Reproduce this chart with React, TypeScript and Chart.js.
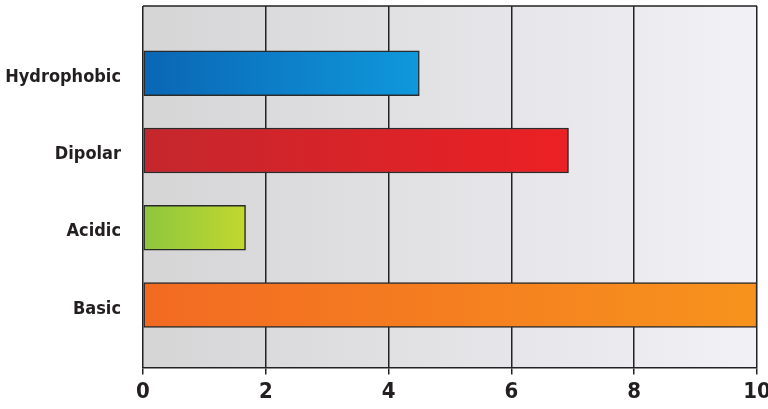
import { useEffect, useRef } from "react";
import { Chart, registerables } from "chart.js";

Chart.register(...registerables);

const categories = ["Hydrophobic", "Dipolar", "Acidic", "Basic"];
const values = [4.5, 6.93, 1.67, 10];
const xTicks = [0, 2, 4, 6, 8, 10];
const barColors = [
  ["#0a66b4", "#0f98dc"],
  ["#c4272d", "#ec2024"],
  ["#8cc63f", "#c2d82e"],
  ["#f26a22", "#f7931d"],
];

const FONT = "'DejaVu Sans Condensed', 'Liberation Sans Narrow', sans-serif";
const INK = "#231f20";

export default function App() {
  const canvasRef = useRef<HTMLCanvasElement>(null);
  const chartRef = useRef<Chart | null>(null);

  useEffect(() => {
    document.body.style.margin = "0";
    if (!canvasRef.current) return;
    const ctx = canvasRef.current.getContext("2d");
    if (!ctx) return;
    if (chartRef.current) chartRef.current.destroy();

    // grey backdrop of the plot, darker on the left, plus the top frame line
    const backdrop = {
      id: "backdrop",
      beforeDraw(chart: any) {
        const { ctx, chartArea: a } = chart;
        const g = ctx.createLinearGradient(a.left, 0, a.right, 0);
        g.addColorStop(0, "#d5d5d6");
        g.addColorStop(1, "#f1f1f6");
        ctx.save();
        ctx.fillStyle = g;
        ctx.fillRect(a.left, a.top, a.right - a.left, a.bottom - a.top);
        ctx.restore();
      },
      afterDraw(chart: any) {
        const { ctx, chartArea: a } = chart;
        ctx.save();
        ctx.strokeStyle = "#222";
        ctx.lineWidth = 1.5;
        ctx.beginPath();
        ctx.moveTo(a.left, a.top);
        ctx.lineTo(a.right, a.top);
        ctx.stroke();
        ctx.restore();
      },
    };

    chartRef.current = new Chart(ctx, {
      type: "bar",
      data: {
        datasets: [
          {
            data: values.map((v, i) => ({ x: v, y: i })),
            backgroundColor: (c: any) => {
              const chart = c.chart;
              if (!chart.chartArea || c.dataIndex === undefined) return barColors[0][0];
              const xs = chart.scales.x;
              const x0 = xs.getPixelForValue(0);
              const x1 = xs.getPixelForValue(values[c.dataIndex]);
              const g = chart.ctx.createLinearGradient(x0, 0, x1, 0);
              g.addColorStop(0, barColors[c.dataIndex][0]);
              g.addColorStop(1, barColors[c.dataIndex][1]);
              return g;
            },
            borderColor: "#2a2a2a",
            borderWidth: 1.5,
            borderSkipped: false,
            barThickness: 45,
          },
        ],
      },
      options: {
        indexAxis: "y",
        animation: false,
        responsive: false,
        layout: { padding: { top: 6, right: 11, left: 0, bottom: 0 } },
        plugins: { legend: { display: false }, tooltip: { enabled: false } },
        scales: {
          x: {
            type: "linear",
            min: 0,
            max: 10,
            afterBuildTicks: (s: any) => {
              s.ticks = xTicks.map((v) => ({ value: v }));
            },
            afterFit: (s: any) => {
              s.paddingRight = 0;
              s.paddingLeft = 0;
            },
            grid: { color: "#222", lineWidth: 1.5, tickLength: 7, drawTicks: true },
            border: { display: true, color: "#222", width: 1.5 },
            ticks: {
              color: INK,
              padding: 4,
              font: { family: FONT, size: 22, weight: "bold" },
            },
          },
          y: {
            type: "linear",
            reverse: true,
            offset: false,
            min: -0.87,
            max: 3.81,
            afterBuildTicks: (s: any) => {
              s.ticks = categories.map((_, i) => ({ value: i }));
            },
            afterFit: (s: any) => {
              s.width = 143;
              s.paddingTop = 0;
              s.paddingBottom = 0;
            },
            grid: { display: false, offset: false, drawTicks: false, tickLength: 0 },
            border: { display: false },
            ticks: {
              color: INK,
              padding: 22,
              labelOffset: 4,
              font: { family: FONT, size: 18, weight: "bold" },
              callback: (v: any) => categories[v] ?? "",
            },
          },
        },
      },
      plugins: [backdrop],
    } as any);

    return () => {
      if (chartRef.current) {
        chartRef.current.destroy();
        chartRef.current = null;
      }
    };
  }, []);

  return (
    <div style={{ width: 768, height: 409 }}>
      <canvas ref={canvasRef} width={768} height={409}></canvas>
    </div>
  );
}
